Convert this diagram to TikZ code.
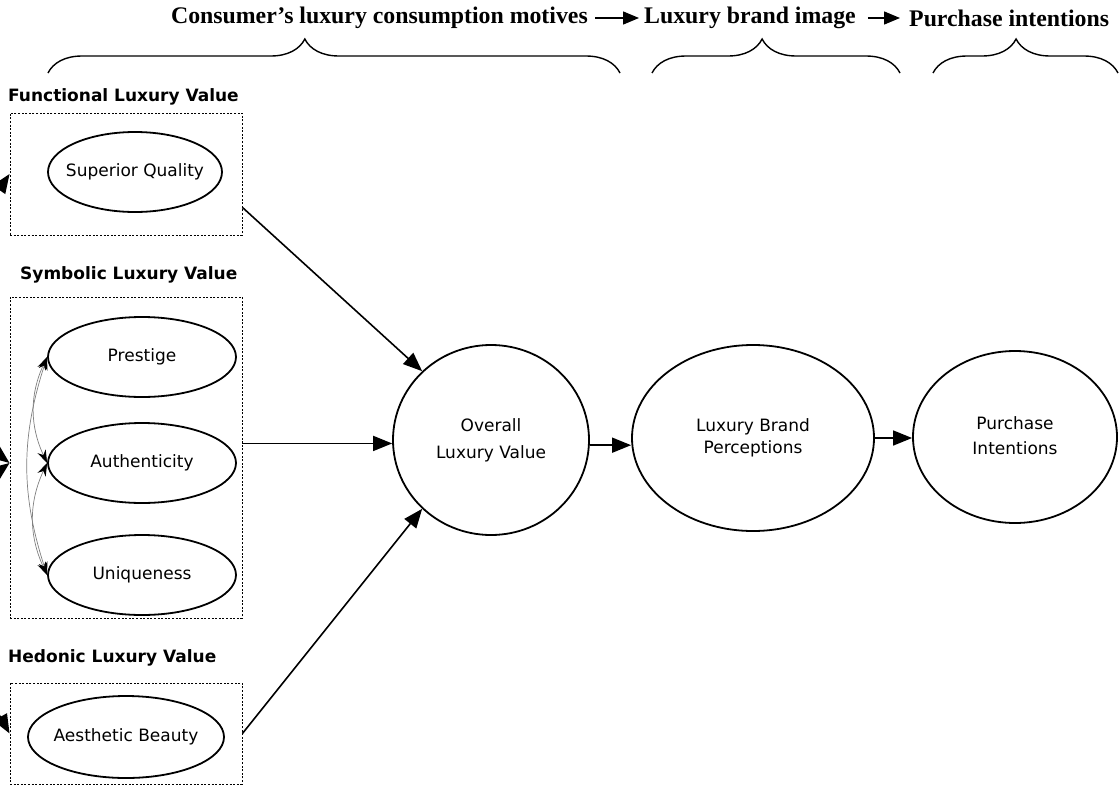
\documentclass[tikz,border=0pt]{standalone}
\usepackage{fontspec}
\setmainfont{DejaVu Sans}
\newfontfamily\headfont{Liberation Serif}
\usetikzlibrary{arrows.meta,shapes.geometric,decorations.pathreplacing,calc}
% centred label whose width does not enlarge the ellipse
\newcommand{\lvtext}[2]{\makebox[0pt]{\fontsize{17}{#1}\selectfont\begin{tabular}{@{}c@{}}#2\end{tabular}}}
\begin{document}
\begin{tikzpicture}[x=1pt,y=-1pt,
  latent/.style={ellipse,draw,line width=1.8pt,inner sep=0pt},
  groupbox/.style={draw,dash pattern=on 2pt off 1.6pt,line width=0.9pt,inner sep=0pt},
  grouptitle/.style={font=\fontsize{17}{20}\selectfont\bfseries,anchor=west,inner sep=0pt},
  header/.style={font=\headfont\fontsize{23.8}{28}\selectfont\bfseries,inner sep=0pt},
  path/.style={line width=1.6pt,-{Triangle[length=19pt,width=15pt]}},
  headarrow/.style={line width=1.5pt,-{Triangle[length=16pt,width=13pt]}},
  cov/.style={draw=gray,line width=0.7pt,{Stealth[length=13pt,width=9pt,black]}-{Stealth[length=13pt,width=9pt,black]}},
  motive/.style={decorate,decoration={brace,amplitude=34pt,aspect=#1},line width=1.4pt}
]
\useasboundingbox (0,0) rectangle (1119,787);
\clip (0,0) rectangle (1119,787);

% stage headers
\node[header,anchor=east] (h1) at (588,18) {Consumer’s luxury consumption motives};
\node[header,anchor=west] (h2) at (644,18) {Luxury brand image};
\node[header,anchor=west] (h3) at (909,18) {Purchase intentions};
\draw[headarrow,shorten <=7pt,shorten >=5pt] (h1.east) -- (h2.west);
\draw[headarrow,shorten <=12pt,shorten >=9pt] (h2.east) -- (h3.west);

% braces under the headers
\coordinate (b1l) at (48,73);   \coordinate (b1r) at (620,73);
\coordinate (b2l) at (652,73);  \coordinate (b2r) at (900,73);
\coordinate (b3l) at (933,73);  \coordinate (b3r) at (1118,73);
\draw[motive=0.449] (b1l) -- (b1r);
\draw[motive=0.444] (b2l) -- (b2r);
\draw[motive=0.449] (b3l) -- (b3r);

% value groups
\node[grouptitle] (ft) at (8,97) {Functional Luxury Value};
\node[groupbox,minimum width=232pt,minimum height=122pt] (fb) at (126,174) {};
\node[grouptitle] (st) at (20,275) {Symbolic Luxury Value};
\node[groupbox,minimum width=232pt,minimum height=321pt] (sb) at (126,457.5) {};
\node[grouptitle] (ht) at (8,658) {Hedonic Luxury Value};
\node[groupbox,minimum width=232pt,minimum height=101pt] (hb) at (126,733.5) {};

% first-order constructs
\node[latent,minimum width=174pt,minimum height=80pt] (sq) at (135,172) {\lvtext{20}{Superior Quality}};
\node[latent,minimum width=188pt,minimum height=80pt] (pr) at (142,357) {\lvtext{20}{Prestige}};
\node[latent,minimum width=188pt,minimum height=80pt] (au) at (142,463) {\lvtext{20}{Authenticity}};
\node[latent,minimum width=188pt,minimum height=80pt] (un) at (142,575) {\lvtext{20}{Uniqueness}};
\node[latent,minimum width=196pt,minimum height=82pt] (ab) at (126,737) {\lvtext{20}{Aesthetic Beauty}};

% outcome constructs
\node[latent,minimum width=196pt,minimum height=190pt] (ov) at (491,440) {\lvtext{27}{Overall\\Luxury Value}};
\node[latent,minimum width=242pt,minimum height=186pt] (lbp) at (753,438) {\lvtext{22}{Luxury Brand\\Perceptions}};
\node[latent,minimum width=204pt,minimum height=172pt] (pi) at (1015,437) {\lvtext{25}{Purchase\\Intentions}};

% correlations among the symbolic dimensions
\draw[cov] (pr.west) to[bend right=25] (au.west);
\draw[cov] (au.west) to[bend right=25] (un.west);
\draw[cov] (pr.west) to[bend right=18] (un.west);

% loadings entering the groups from the left
\coordinate (l1) at (-25,225);
\coordinate (l2a) at (-40,425);
\coordinate (l2b) at (-40,500);
\coordinate (l3) at (-12,695);
\draw[path] (l1) -- (fb.west);
\draw[path] (l2a) -- (sb.west |- au.west);
\draw[path] (l2b) -- (sb.west |- au.west);
\draw[path] (l3) -- (hb.west);

% structural paths
\draw[path] ([yshift=28pt]fb.south east) -- (ov.135);
\draw[path] (sb.east |- ov.182) -- (ov.182);
\draw[path] (hb.east) -- (ov.225);
\draw[path] (ov.357) -- (ov.357 -| lbp.west);
\draw[path] (lbp.east) -- (lbp.east -| pi.west);
\end{tikzpicture}
\end{document}
